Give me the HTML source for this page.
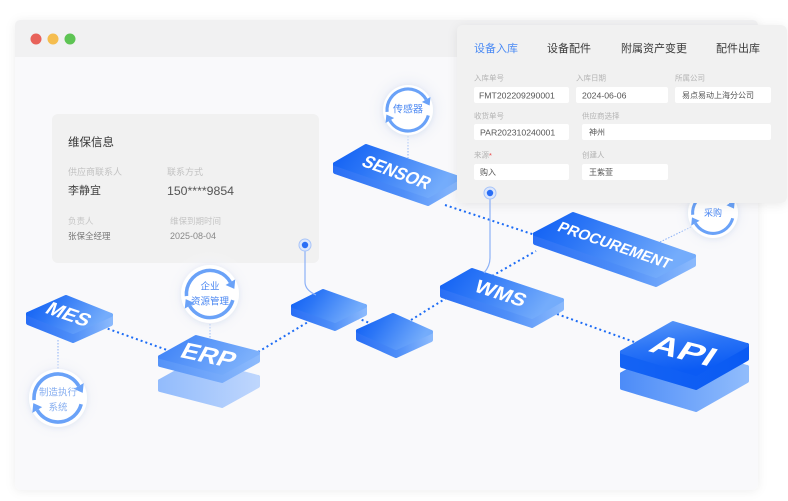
<!DOCTYPE html>
<html><head><meta charset="utf-8"><style>
html,body{margin:0;padding:0;background:#fff;width:788px;height:501px;overflow:hidden}
svg{display:block}
text{font-family:"Liberation Sans","Noto Sans CJK SC",sans-serif}
.bt{fill:#fff;font-weight:700;text-anchor:middle}
.cn{stroke:#1d6cf5;stroke-width:2;stroke-dasharray:2 3;fill:none}
.tn{stroke:#8ab0f5;stroke-width:1;stroke-dasharray:1.5 1.5;fill:none}
.lb{font-size:7.5px;fill:#b3b3b3;dominant-baseline:central}
.iv{font-size:8.7px;fill:#555;dominant-baseline:central}
.ip{fill:#fff}
.rt{fill:#4a87f2;text-anchor:middle;dominant-baseline:central}
</style></head><body>
<svg width="788" height="501" viewBox="0 0 788 501" xmlns="http://www.w3.org/2000/svg">
<defs>
  <filter id="sh" x="-5%" y="-5%" width="110%" height="110%"><feDropShadow dx="0" dy="1" stdDeviation="5" flood-color="#000" flood-opacity="0.07"/></filter>
  <filter id="sh2" x="-10%" y="-10%" width="120%" height="125%"><feDropShadow dx="0" dy="2" stdDeviation="5" flood-color="#000" flood-opacity="0.08"/></filter>
  <filter id="cs" x="-30%" y="-30%" width="160%" height="160%"><feDropShadow dx="0" dy="1" stdDeviation="2.5" flood-color="#3a5aa0" flood-opacity="0.08"/></filter>
  <radialGradient id="halo">
    <stop offset="0.55" stop-color="#e9edf7" stop-opacity="1"/>
    <stop offset="1" stop-color="#f9f9fb" stop-opacity="0"/>
  </radialGradient>
  <linearGradient id="gt" x1="0" y1="0" x2="1" y2="0.3">
    <stop offset="0" stop-color="#0f5ff4"/><stop offset="0.35" stop-color="#2c76f6"/><stop offset="1" stop-color="#74acfb"/>
  </linearGradient>
  <linearGradient id="gs" x1="0" y1="0" x2="1" y2="0">
    <stop offset="0" stop-color="#2a6ff5"/><stop offset="0.55" stop-color="#4f8ff8"/><stop offset="1" stop-color="#8ab9fc"/>
  </linearGradient>
  <linearGradient id="ge" x1="0" y1="0" x2="1" y2="0.3">
    <stop offset="0" stop-color="#3b80f7"/><stop offset="1" stop-color="#7cb0fb"/>
  </linearGradient>
  <linearGradient id="ges" x1="0" y1="0" x2="1" y2="0">
    <stop offset="0" stop-color="#5593f8"/><stop offset="1" stop-color="#8cbafc"/>
  </linearGradient>
  <linearGradient id="gl" x1="0" y1="0" x2="1" y2="0">
    <stop offset="0" stop-color="#93bcfc"/><stop offset="1" stop-color="#bed6fd"/>
  </linearGradient>
  <linearGradient id="ga" x1="0" y1="0" x2="0.3" y2="1">
    <stop offset="0" stop-color="#5a98f9"/><stop offset="0.5" stop-color="#2a74f6"/><stop offset="1" stop-color="#0b5bf4"/>
  </linearGradient>
  <linearGradient id="gas" x1="0" y1="0" x2="1" y2="0">
    <stop offset="0" stop-color="#1463f4"/><stop offset="1" stop-color="#0a5af3"/>
  </linearGradient>
  <linearGradient id="gal" x1="0" y1="0" x2="1" y2="0">
    <stop offset="0" stop-color="#4d8cf8"/><stop offset="1" stop-color="#90bcfc"/>
  </linearGradient>
  <g id="ring">
    <path d="M-19.92,1.74 A20,20 0 0 1 17.32,-10" fill="none" stroke="#6aa2f8" stroke-width="3"/>
    <polygon points="20.6,-4.3 21.4,-12.4 13.2,-7.6" fill="#6aa2f8"/>
    <path d="M19.32,5.18 A20,20 0 0 1 -17.32,10" fill="none" stroke="#6aa2f8" stroke-width="3"/>
    <polygon points="-20.6,4.3 -21.4,12.4 -13.2,7.6" fill="#6aa2f8"/>
  </g>
</defs>

<!-- window -->
<rect x="15" y="20" width="743" height="470" rx="6" fill="#f9f9fb" filter="url(#sh)"/>
<path d="M15,57 V26 Q15,20 21,20 H752 Q758,20 758,26 V57 Z" fill="#f1f1f2"/>
<circle cx="36" cy="39" r="5.5" fill="#e8625a"/>
<circle cx="53" cy="39" r="5.5" fill="#f5bd4f"/>
<circle cx="70" cy="39" r="5.5" fill="#5ec454"/>

<!-- card -->
<rect x="52" y="114" width="267" height="149" rx="6" fill="#f1f1f1"/>
<text x="68" y="143" font-size="11.5" fill="#333" dominant-baseline="central">维保信息</text>
<text x="68" y="172" font-size="9" fill="#c2c2c2" dominant-baseline="central">供应商联系人</text>
<text x="167" y="172" font-size="9" fill="#c2c2c2" dominant-baseline="central">联系方式</text>
<text x="68" y="191" font-size="11" fill="#444" dominant-baseline="central">李静宜</text>
<text x="167" y="191" font-size="12.3" fill="#555" dominant-baseline="central">150****9854</text>
<text x="68" y="221" font-size="8.5" fill="#c5c5c5" dominant-baseline="central">负责人</text>
<text x="170" y="221" font-size="8.5" fill="#c5c5c5" dominant-baseline="central">维保到期时间</text>
<text x="68" y="236" font-size="8.5" fill="#777" dominant-baseline="central">张保全经理</text>
<text x="170" y="236" font-size="9" fill="#888" dominant-baseline="central">2025-08-04</text>

<!-- connectors -->
<line class="cn" x1="103" y1="327" x2="167" y2="350"/>
<line class="cn" x1="258" y1="352" x2="308" y2="322"/>
<line class="cn" x1="357" y1="318" x2="372" y2="324"/>
<line class="cn" x1="411" y1="320" x2="448" y2="297"/>
<line class="cn" x1="492" y1="276" x2="536" y2="251"/>
<line class="cn" x1="445" y1="205" x2="535" y2="235"/>
<line class="cn" x1="557" y1="314" x2="637" y2="343"/>
<line class="tn" x1="408" y1="133" x2="408" y2="158"/>
<line class="tn" x1="210" y1="324" x2="210" y2="342"/>
<line class="tn" x1="58" y1="340" x2="58" y2="369"/>
<line class="tn" x1="660" y1="242" x2="693" y2="226"/>

<!-- halos -->
<circle cx="408" cy="110" r="42" fill="url(#halo)" opacity="0.8"/>
<circle cx="210" cy="295" r="44" fill="url(#halo)" opacity="0.7"/>
<circle cx="58" cy="398" r="44" fill="url(#halo)" opacity="0.7"/>
<circle cx="713" cy="213" r="40" fill="url(#halo)" opacity="0.7"/>

<!-- MES -->
<g stroke-linejoin="round" stroke-width="4">
<polygon points="28,314 73,332 111,315 111,324 73,341 28,323" fill="url(#gs)" stroke="url(#gs)"/>
<polygon points="28,314 66,297 111,315 73,332" fill="url(#gt)" stroke="url(#gt)"/>
</g>
<text class="bt" transform="translate(69,314) rotate(19) skewX(-18)" y="6.8" font-size="19" textLength="44" lengthAdjust="spacingAndGlyphs">MES</text>

<!-- ERP -->
<g stroke-linejoin="round" stroke-width="4">
<polygon points="160,381 222,397 258,377 258,386 222,406 160,390" fill="url(#gl)" stroke="url(#gl)"/>
<polygon points="160,381 196,361 258,377 222,397" fill="url(#gl)" stroke="url(#gl)"/>
<polygon points="160,357 222,373 258,353 258,361 222,381 160,365" fill="url(#ges)" stroke="url(#ges)"/>
<polygon points="160,357 196,337 258,353 222,373" fill="url(#ge)" stroke="url(#ge)"/>
</g>
<text class="bt" transform="translate(209,355) rotate(12) skewX(-16)" y="8.2" font-size="23" textLength="54" lengthAdjust="spacingAndGlyphs">ERP</text>

<!-- small blocks -->
<g stroke-linejoin="round" stroke-width="4">
<polygon points="293,306 335,321 365,306 365,314 335,329 293,314" fill="url(#gs)" stroke="url(#gs)"/>
<polygon points="293,306 323,291 365,306 335,321" fill="url(#gt)" stroke="url(#gt)"/>
<polygon points="358,331 396,348 431,332 431,340 396,356 358,339" fill="url(#gs)" stroke="url(#gs)"/>
<polygon points="358,331 393,315 431,332 396,348" fill="url(#gt)" stroke="url(#gt)"/>
</g>

<!-- SENSOR -->
<g stroke-linejoin="round" stroke-width="4">
<polygon points="335,164 428,196 459,178 459,186 428,204 335,172" fill="url(#gs)" stroke="url(#gs)"/>
<polygon points="335,164 366,146 459,178 428,196" fill="url(#gt)" stroke="url(#gt)"/>
</g>
<text class="bt" transform="translate(397,172) rotate(20) skewX(-14)" y="6.4" font-size="18" textLength="70" lengthAdjust="spacingAndGlyphs">SENSOR</text>

<!-- WMS -->
<g stroke-linejoin="round" stroke-width="4">
<polygon points="442,287 532,317 562,300 562,309 532,326 442,296" fill="url(#gs)" stroke="url(#gs)"/>
<polygon points="442,287 472,270 562,300 532,317" fill="url(#gt)" stroke="url(#gt)"/>
</g>
<text class="bt" transform="translate(501,293) rotate(18) skewX(-12)" y="6.8" font-size="19" textLength="52" lengthAdjust="spacingAndGlyphs">WMS</text>

<!-- PROCUREMENT -->
<g stroke-linejoin="round" stroke-width="4">
<polygon points="535,234 656,276 694,256 694,265 656,285 535,243" fill="url(#gs)" stroke="url(#gs)"/>
<polygon points="535,234 573,214 694,256 656,276" fill="url(#gt)" stroke="url(#gt)"/>
</g>
<text class="bt" transform="translate(615,245) rotate(19) skewX(-12)" y="5.3" font-size="15" textLength="118" lengthAdjust="spacingAndGlyphs">PROCUREMENT</text>

<!-- API -->
<g stroke-linejoin="round" stroke-width="4">
<polygon points="622,374 696,396 747,367 747,381 696,410 622,388" fill="url(#gal)" stroke="url(#gal)"/>
<polygon points="622,374 673,345 747,367 696,396" fill="url(#gal)" stroke="url(#gal)"/>
<polygon points="622,352 696,374 747,345 747,359 696,388 622,366" fill="url(#gas)" stroke="url(#gas)"/>
<polygon points="622,352 673,323 747,345 696,374" fill="url(#ga)" stroke="url(#ga)"/>
</g>
<text class="bt" transform="translate(684,350) rotate(14) skewX(-20)" y="9.7" font-size="27" textLength="64" lengthAdjust="spacingAndGlyphs">API</text>

<!-- circles -->
<circle cx="408" cy="110" r="25" fill="#fff" filter="url(#cs)"/>
<use href="#ring" transform="translate(408,110) scale(1.05)"/>
<text class="rt" x="408" y="110" font-size="10">传感器</text>

<circle cx="210" cy="294" r="29" fill="#fff" filter="url(#cs)"/>
<use href="#ring" transform="translate(210,294) scale(1.18)"/>
<text class="rt" x="210" y="287" font-size="9.5">企业</text>
<text class="rt" x="210" y="302" font-size="9.5">资源管理</text>

<circle cx="58" cy="398" r="29" fill="#fff" filter="url(#cs)"/>
<use href="#ring" transform="translate(58,398) scale(1.2)"/>
<text class="rt" x="58" y="393" font-size="9.5" style="fill:#86aef0">制造执行</text>
<text class="rt" x="58" y="408" font-size="9.5" style="fill:#86aef0">系统</text>

<circle cx="713" cy="213" r="25" fill="#fff" filter="url(#cs)"/>
<use href="#ring" transform="translate(713,213) scale(1.02)"/>
<text class="rt" x="713" y="213" font-size="9">采购</text>

<!-- pin 1 -->
<path d="M305,251 V282 Q305,290 316,295" fill="none" stroke="#8cb1f7" stroke-width="1.2"/>
<circle cx="305" cy="245" r="6" fill="#dce7fc" stroke="#a8c4f9" stroke-width="1"/>
<circle cx="305" cy="245" r="3.2" fill="#2a6ef5"/>

<!-- right panel -->
<rect x="457" y="25" width="330" height="178" rx="6" fill="#f1f1f1" filter="url(#sh2)"/>
<g font-size="11">
<text x="474" y="49" fill="#4a8af4" dominant-baseline="central">设备入库</text>
<text x="547" y="49" fill="#3a3a3a" dominant-baseline="central">设备配件</text>
<text x="621" y="49" fill="#3a3a3a" dominant-baseline="central">附属资产变更</text>
<text x="716" y="49" fill="#3a3a3a" dominant-baseline="central">配件出库</text>
</g>
<text class="lb" x="474" y="78">入库单号</text>
<text class="lb" x="576" y="78">入库日期</text>
<text class="lb" x="675" y="78">所属公司</text>
<rect class="ip" x="474" y="87" width="95" height="16" rx="2"/>
<rect class="ip" x="576" y="87" width="92" height="16" rx="2"/>
<rect class="ip" x="675" y="87" width="96" height="16" rx="2"/>
<text class="iv" x="479" y="95.5">FMT202209290001</text>
<text class="iv" x="582" y="95.5">2024-06-06</text>
<text class="iv" x="682" y="95.5" style="font-size:8px">易点易动上海分公司</text>

<text class="lb" x="474" y="116">收货单号</text>
<text class="lb" x="582" y="116">供应商选择</text>
<rect class="ip" x="474" y="124" width="95" height="16" rx="2"/>
<rect class="ip" x="582" y="124" width="189" height="16" rx="2"/>
<text class="iv" x="480" y="132.5">PAR202310240001</text>
<text class="iv" x="589" y="132.5" style="font-size:8px">神州</text>

<text class="lb" x="474" y="155">来源<tspan fill="#e84a4a">*</tspan></text>
<text class="lb" x="582" y="155">创建人</text>
<rect class="ip" x="474" y="164" width="95" height="16" rx="2"/>
<rect class="ip" x="582" y="164" width="86" height="16" rx="2"/>
<text class="iv" x="480" y="172.5" style="font-size:8px">购入</text>
<text class="iv" x="589" y="172.5" style="font-size:8px">王紫萱</text>

<!-- pin 2 -->
<path d="M490,199 V258 Q490,266 484,273" fill="none" stroke="#8cb1f7" stroke-width="1.2"/>
<circle cx="490" cy="193" r="6" fill="#dce7fc" stroke="#a8c4f9" stroke-width="1"/>
<circle cx="490" cy="193" r="3.2" fill="#2a6ef5"/>
</svg>
</body></html>
